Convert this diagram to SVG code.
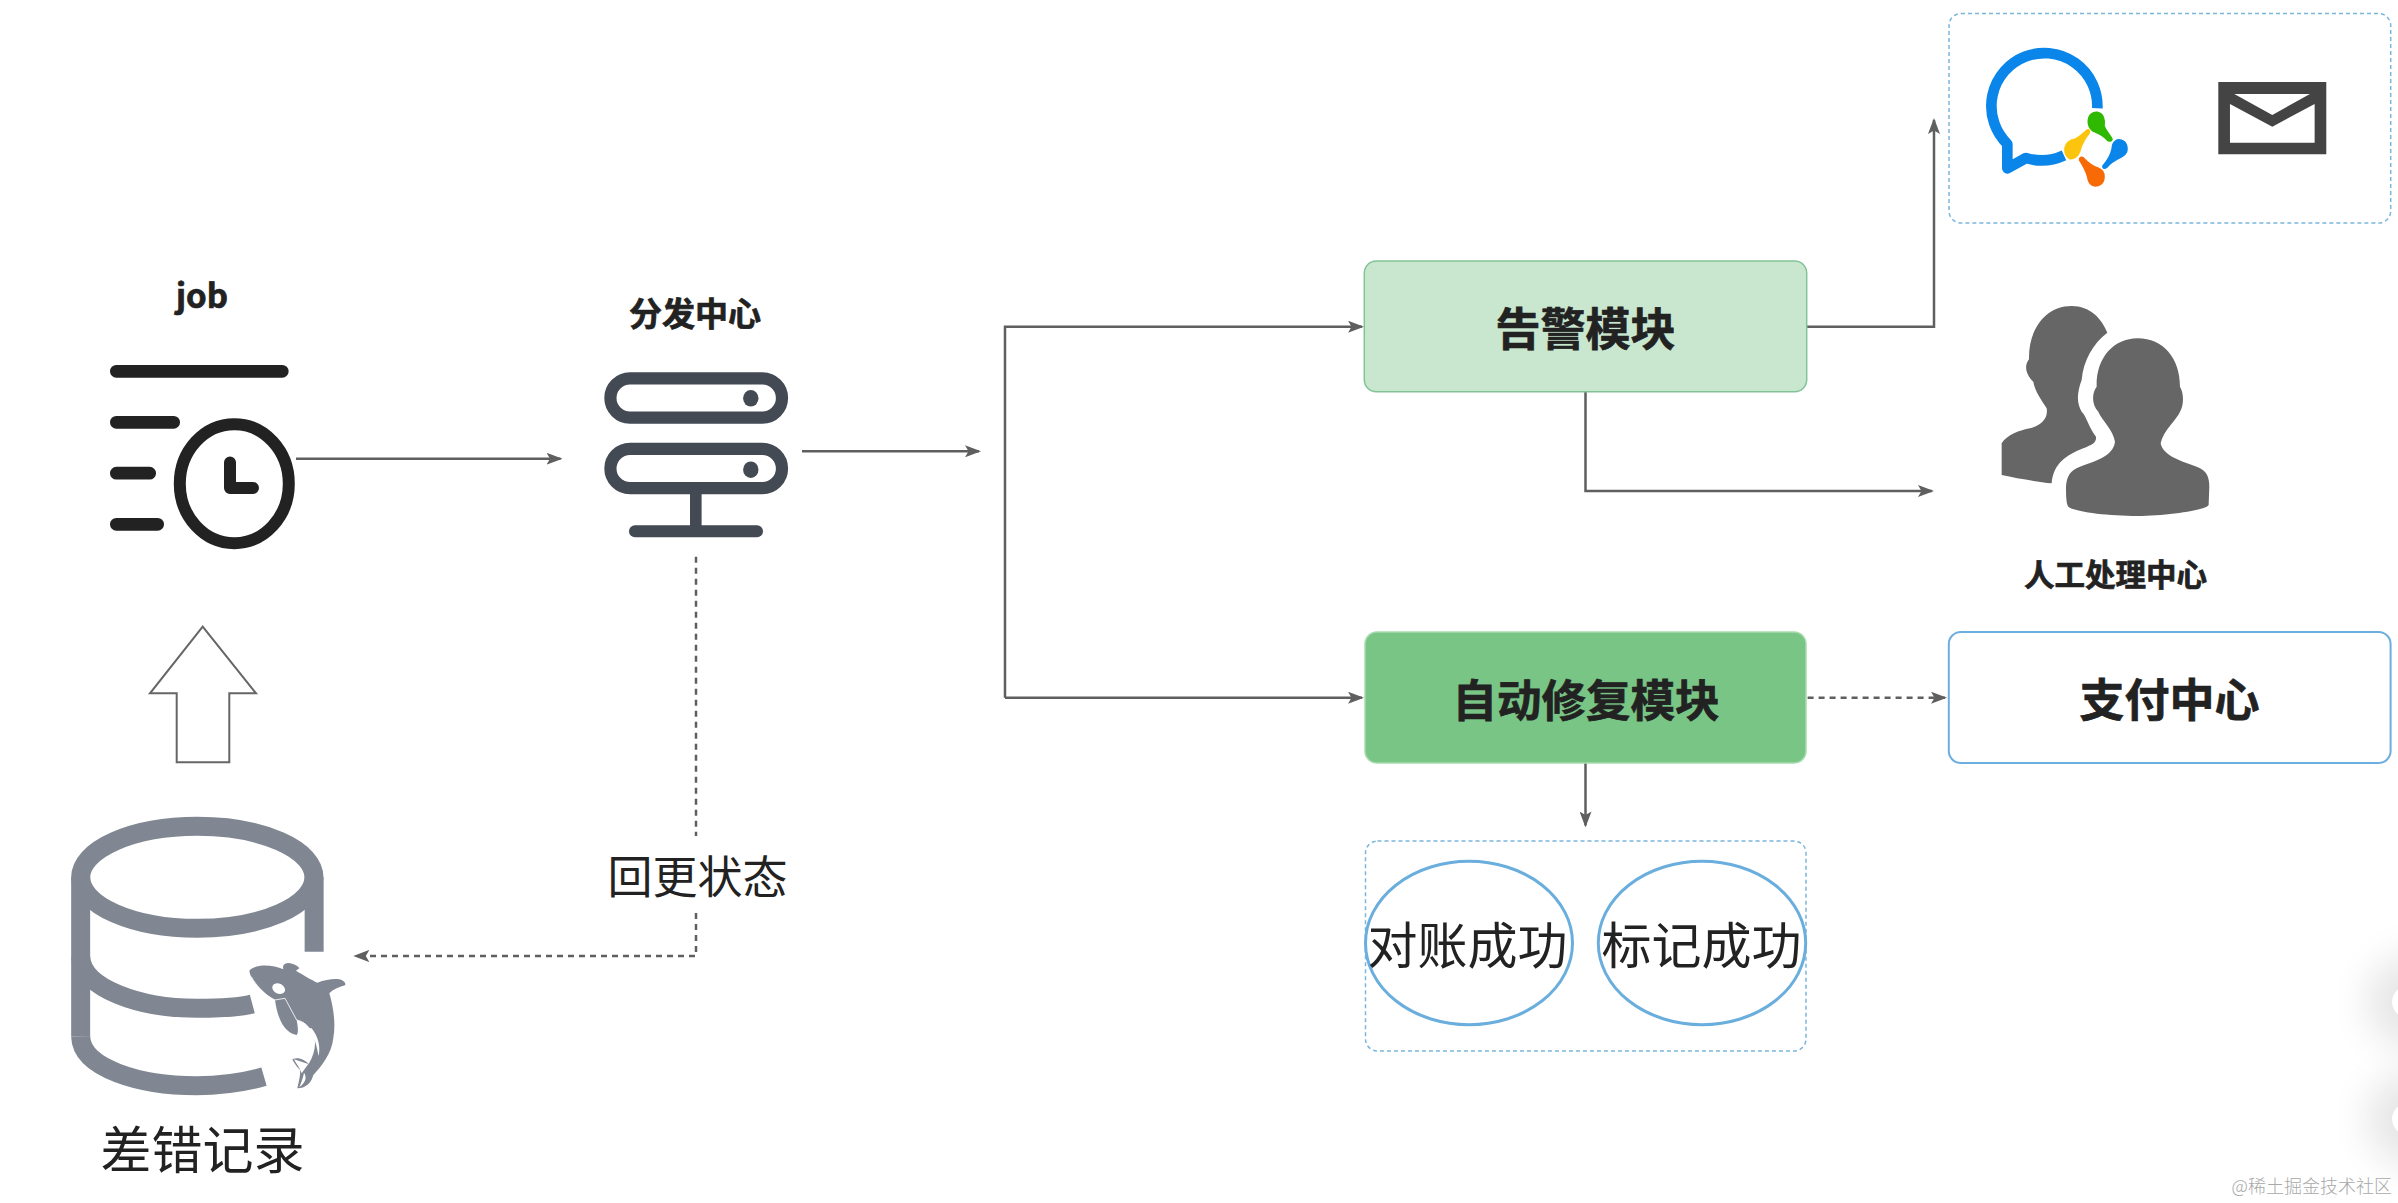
<svg xmlns="http://www.w3.org/2000/svg" width="2398" height="1203" viewBox="0 0 2398 1203">
<style>
text{font-family:"Noto Sans CJK SC","Liberation Sans",sans-serif;fill:#222;text-anchor:middle}
.b{font-weight:700;stroke:#222;stroke-width:.7}
.c{fill:none;stroke:#5f5f5f;stroke-width:2.5}
.d{stroke-dasharray:6 5}
.dash{fill:#fff;stroke:#7ab6dc;stroke-width:1.5;stroke-dasharray:4 3}
.oval{fill:#fff;stroke:#6aaede;stroke-width:3}
.bar{fill:#222}
.srv{fill:none;stroke:#434a54;stroke-width:12.2}
.db{fill:none;stroke:#808792;stroke-width:57}
</style>
<defs>
<marker id="arr" markerUnits="userSpaceOnUse" viewBox="-16 -6 16 12" refX="-2" refY="0" markerWidth="16" markerHeight="12" orient="auto"><path d="M-16,-6 L0,0 L-16,6 L-12.5,0 Z" fill="#5f5f5f"/></marker>
<filter id="soft" x="-100%" y="-100%" width="300%" height="300%"><feGaussianBlur stdDeviation="18"/></filter>
</defs>
<rect width="2398" height="1203" fill="#fff"/>

<g id="edge-shadows">
<ellipse cx="2425" cy="1002" rx="58" ry="50" fill="#e6e6e6" filter="url(#soft)"/>
<ellipse cx="2425" cy="1119" rx="58" ry="50" fill="#e6e6e6" filter="url(#soft)"/>
<ellipse cx="2420" cy="1002" rx="28" ry="20" fill="#fff"/>
<ellipse cx="2420" cy="1119" rx="28" ry="20" fill="#fff"/>
</g>

<g id="connectors">
<path class="c" d="M296,458.7 H560.5" marker-end="url(#arr)"/>
<path class="c" d="M802,451.3 H979" marker-end="url(#arr)"/>
<path class="c" d="M1005,697.7 V326.7 H1362" marker-end="url(#arr)"/>
<path class="c" d="M1005,697.7 H1362" marker-end="url(#arr)"/>
<path class="c" d="M1806.7,326.7 H1934 V120" marker-end="url(#arr)"/>
<path class="c" d="M1585.5,391.7 V491 H1932" marker-end="url(#arr)"/>
<path class="c" d="M1585.5,763 V825.4" marker-end="url(#arr)"/>
<path class="c d" d="M1807.6,697.7 H1945" marker-end="url(#arr)"/>
<path class="c d" d="M696,556.7 V836"/>
<path class="c d" d="M696,913 V956 H355.3" marker-end="url(#arr)"/>
</g>

<g id="job">
<text class="b" x="202" y="308" font-size="33">job</text>
<rect class="bar" x="110" y="365" width="178.6" height="12.7" rx="6.3"/>
<rect class="bar" x="110" y="416" width="70" height="12.7" rx="6.3"/>
<rect class="bar" x="110" y="466.8" width="46" height="12.7" rx="6.3"/>
<rect class="bar" x="110" y="518" width="54" height="12.7" rx="6.3"/>
<ellipse cx="234.3" cy="483.7" rx="54.5" ry="59.5" fill="none" stroke="#222" stroke-width="12"/>
<path d="M230,462.5 V488 H253" fill="none" stroke="#222" stroke-width="12" stroke-linecap="round" stroke-linejoin="round"/>
</g>

<g id="dispatch">
<text class="b" x="695" y="325.5" font-size="33">分发中心</text>
<rect class="srv" x="610.4" y="378.4" width="171.6" height="39.2" rx="19.6"/>
<rect class="srv" x="610.4" y="448.8" width="171.6" height="39.4" rx="19.7"/>
<ellipse cx="750.8" cy="398.3" rx="7.7" ry="8.3" fill="#434a54"/>
<ellipse cx="750.8" cy="469.7" rx="7.7" ry="8.3" fill="#434a54"/>
<rect x="690" y="494" width="11.6" height="33" fill="#434a54"/>
<rect x="629" y="525.3" width="134" height="12" rx="6" fill="#434a54"/>
</g>

<g id="up-arrow">
<path d="M202.7,626.7 L150,693.3 H176.7 V762.3 H229.3 V693.3 H256 Z" fill="#fff" stroke="#666" stroke-width="2"/>
</g>

<g id="db">
<g transform="translate(40,780) scale(.3333)">
<ellipse class="db" cx="472" cy="292" rx="350" ry="153"/>
<path class="db" d="M122,292 V770"/>
<path class="db" d="M822.5,292 V515"/>
<path class="db" d="M122,530 C125,625 300,685 470,685 C540,685 600,682 637,672"/>
<path class="db" d="M122,770 C125,865 300,917 470,917 C540,917 610,908 672,890"/>
<path fill="#808792" d="M628,572 C650,550 700,555 730,568 C728,558 730,550 745,549 C760,550 775,558 778,565 L768,572 C790,585 815,600 832,608 C860,598 890,594 905,600 C915,604 918,612 915,616 C895,622 880,628 868,640 C880,680 888,730 880,775 C875,820 845,860 820,885 C815,905 800,925 772,925 C778,900 782,880 780,870 C770,860 760,845 757,838 C775,830 795,840 806,852 C825,820 830,790 820,760 C800,730 790,725 770,720 C775,745 775,760 770,765 C740,760 715,730 705,660 C670,640 630,600 628,572 Z"/>
<ellipse cx="716" cy="626" rx="20" ry="15" fill="#fff" transform="rotate(25 716 626)"/>
<path d="M634,590 C650,620 680,650 705,660 L735,655 L770,720 C795,725 815,745 825,780" fill="none" stroke="#fff" stroke-width="2.5"/>
<path d="M815,745 C835,770 842,800 836,828 C830,800 825,770 805,745 Z" fill="#fff"/>
<path d="M762,838 L805,852 L785,880 C780,865 768,850 762,838 Z M778,922 C785,905 790,890 792,878 C800,890 800,905 778,922Z" fill="#fff"/>
</g>
<text x="202.5" y="1169" font-size="51">差错记录</text>
</g>

<g id="status-label">
<text x="697.5" y="893.5" font-size="45">回更状态</text>
</g>

<g id="alert">
<rect x="1364.3" y="261" width="442.4" height="130.7" rx="12" fill="#c9e7cf" stroke="#82c397" stroke-width="1.5"/>
<text class="b" x="1585.5" y="345.5" font-size="45">告警模块</text>
</g>

<g id="repair">
<rect x="1365" y="632" width="441" height="131" rx="12" fill="#78c585" stroke="#a6dcae" stroke-width="1.5"/>
<text class="b" x="1586" y="716.5" font-size="44.5">自动修复模块</text>
</g>

<g id="pay">
<rect x="1948.8" y="632" width="441.8" height="131" rx="12" fill="#fff" stroke="#6caee0" stroke-width="2"/>
<text class="b" x="2169.5" y="716.5" font-size="45">支付中心</text>
</g>

<g id="result">
<rect class="dash" x="1365.5" y="841" width="440.5" height="210" rx="12"/>
<ellipse class="oval" cx="1469" cy="943" rx="103.5" ry="81.7"/>
<ellipse class="oval" cx="1702" cy="943" rx="103.7" ry="81.7"/>
<text x="1467.5" y="964" font-size="50">对账成功</text>
<text x="1701.5" y="964" font-size="50">标记成功</text>
</g>

<g id="notify">
<rect class="dash" x="1949" y="13.5" width="441.7" height="209.5" rx="12"/>
<g transform="translate(1900,0) scale(.3333)">
<path d="M592,325 A159,159 0 1 0 322,432 L322,505 L378,474 A159,159 0 0 0 492,466" fill="none" stroke="#0a85ea" stroke-width="32" stroke-linejoin="round"/>
<path fill="#2fb900" stroke="#2fb900" stroke-width="5" d="M565,365 C565,345 580,335 592,337 C610,340 615,360 612,378 C618,395 630,405 636,418 C634,425 628,424 622,420 C610,405 590,398 578,392 C570,385 565,378 565,365 Z"/>
<path fill="#fcc40c" stroke="#fcc40c" stroke-width="5" d="M495,450 C495,430 510,420 525,418 C540,410 552,398 562,390 C568,388 570,394 567,400 C555,415 545,430 540,452 C535,470 520,478 508,475 C500,470 495,460 495,450 Z"/>
<path fill="#0a85ea" stroke="#0a85ea" stroke-width="5" d="M681,447 C681,425 665,418 652,420 C640,425 637,435 637,445 C632,470 620,485 609,498 C608,506 614,506 620,502 C630,490 645,480 662,472 C675,465 681,458 681,447 Z"/>
<path fill="#f76a05" stroke="#f76a05" stroke-width="5" d="M612,530 C612,550 598,558 585,558 C570,556 565,545 563,530 C558,510 548,495 539,480 C538,472 545,470 550,474 C565,490 580,500 595,505 C608,510 612,520 612,530 Z"/>
<path fill="#444" d="M955,246 H1279 V463 H955 Z"/>
<path fill="#fff" d="M1003,282 H1230 L1117,345 Z M990,312 L1117,380 L1244,312 V428 H990 Z"/>
</g>
</g>

<g id="manual">
<g transform="translate(1950,280) scale(.3333)" fill="#666">
<path d="M365,78 C420,78 455,115 472,158 C430,190 400,240 395,300 C380,340 380,370 395,395 C410,410 415,440 438,470 C440,490 425,495 400,505 C350,525 310,550 305,610 C260,605 200,595 155,585 L155,490 C170,465 210,450 240,445 C275,435 295,415 290,385 C275,360 255,335 250,305 C230,285 220,260 237,238 C235,150 285,78 365,78 Z"/>
<path d="M563,175 C640,175 690,235 690,320 C702,340 702,375 690,395 C680,420 640,450 632,490 C640,530 700,545 740,560 C770,570 778,590 778,620 L776,675 C770,690 650,708 563,708 C470,708 370,695 355,680 C348,670 348,640 348,620 C350,590 360,570 390,560 C430,545 490,530 495,485 C490,450 455,420 445,395 C425,375 425,340 440,320 C438,235 490,175 563,175 Z"/>
</g>
<text class="b" x="2115.5" y="586" font-size="30.5">人工处理中心</text>
</g>

<g id="watermark">
<text x="2392" y="1193" font-size="18" font-weight="300" style="text-anchor:end;fill:#a8a8a8">@稀土掘金技术社区</text>
</g>
</svg>
